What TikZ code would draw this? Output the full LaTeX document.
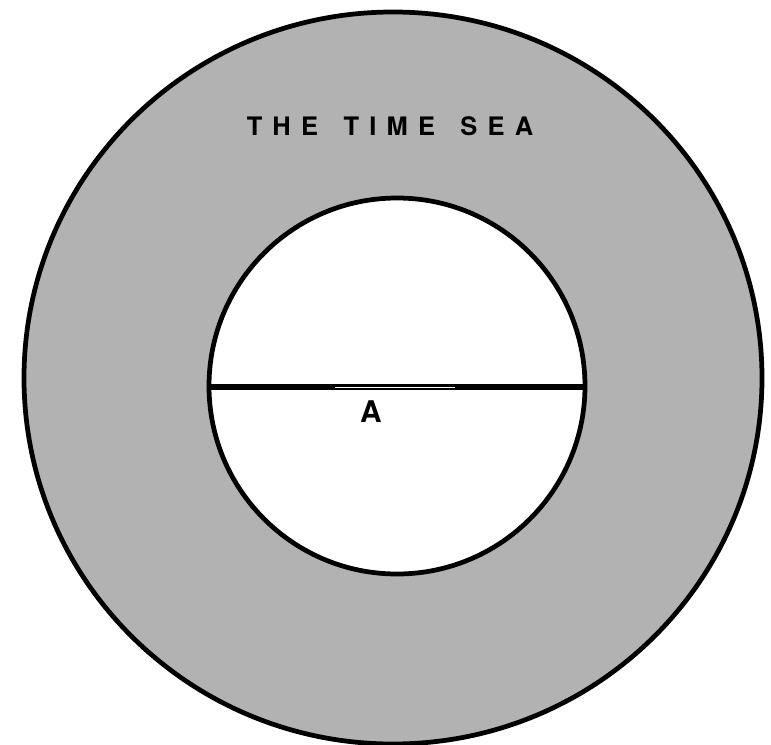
\documentclass[tikz,border=0pt]{standalone}
\usepackage{fontspec}
\setsansfont{TeX Gyre Heros}
\definecolor{seagray}{RGB}{178,178,178}
\begin{document}
\begin{tikzpicture}[x=0.02cm,y=-0.02cm,font=\sffamily\bfseries]

        % Area del disegno (in pixel)
        \useasboundingbox (0,0) rectangle (771,744);

        % Stile globale per le linee
        \tikzset{every path/.style={line width=2.7pt}}

        % Il mare del tempo (anello grigio)
        \draw[fill=seagray] (393,378) ellipse (369 and 366);
        \draw[fill=white] (397,386) circle (188);

        % Linea A
        \draw[line width=3pt] (209,387) -- (586,387);
        \draw[white, line width=0.5pt] (335,387) -- (455,387);

        % Etichette
        \node[font=\sffamily\bfseries\fontsize{17}{18}\selectfont] (a) at (371,412) {A};
        \node[font=\sffamily\bfseries\fontsize{14.5}{15}\selectfont\addfontfeature{LetterSpace=40}] (titolo) at (390,126) {THE\hspace{1em}TIME\hspace{1em}SEA};

    \end{tikzpicture}
\end{document}
